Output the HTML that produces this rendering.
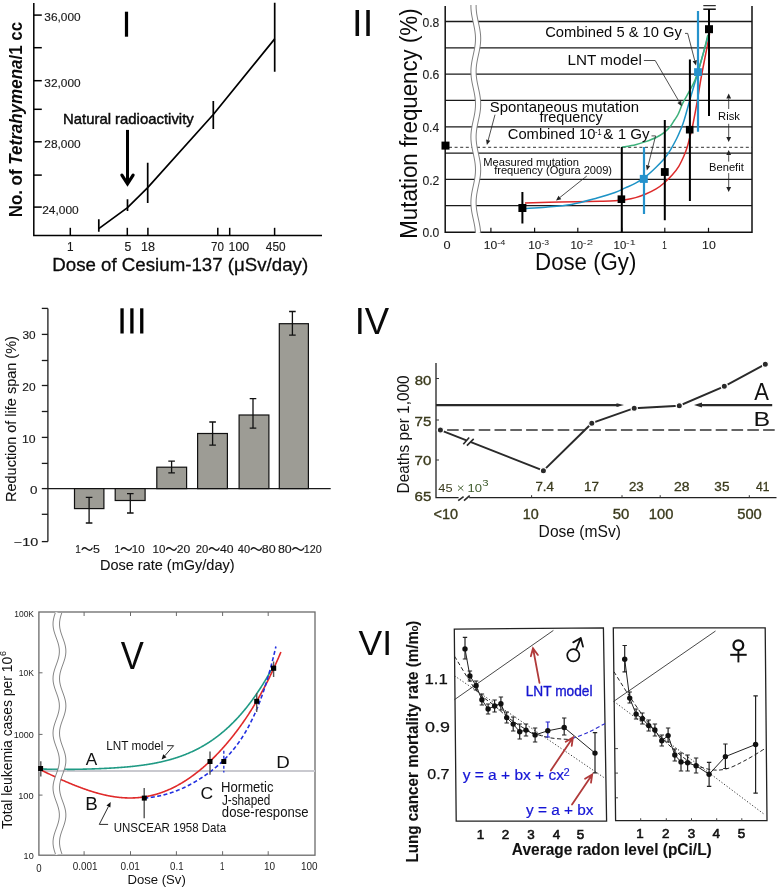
<!DOCTYPE html>
<html><head><meta charset="utf-8">
<style>
html,body{margin:0;padding:0;background:#fff;}
body{width:778px;height:889px;overflow:hidden;}
svg{display:block;font-family:"Liberation Sans",sans-serif;will-change:transform;}
text{font-family:"Liberation Sans",sans-serif;}
</style></head><body>
<svg width="778" height="889" viewBox="0 0 778 889">
<rect width="778" height="889" fill="#fff"/>
<g id="p1">
<g stroke="#000" stroke-width="1.5" fill="none">
<path d="M33.8 3V235.5H322"/>
<path d="M33.8 15.1h8"/>
<path d="M33.8 47.7h8"/>
<path d="M33.8 80.7h8"/>
<path d="M33.8 109.3h8"/>
<path d="M33.8 141.8h8"/>
<path d="M33.8 175.1h8"/>
<path d="M33.8 207.1h8"/>
<path d="M70.3 235.5v-7.7"/>
<path d="M127.3 235.5v-7.7"/>
<path d="M147.9 235.5v-7.7"/>
<path d="M217.8 235.5v-7.7"/>
<path d="M229.7 235.5v-7.7"/>
<path d="M274.6 235.5v-7.7"/>
</g>
<g stroke="#000" stroke-width="1.7" fill="none">
<path d="M98.8 228.6L127.5 207.6L147.7 187.6L213.3 114.5L274.7 38.9"/>
<path d="M98.8 219.3V231.7M127.5 199.2V211.1M147.7 162.8V202.9M213.3 101V128.9M274.7 2.8V71.7"/>
</g>
<rect x="124.9" y="11.7" width="3.2" height="25" fill="#000"/>
<path d="M127.5 129.9V181" stroke="#000" stroke-width="3" fill="none"/>
<path d="M121.9 175.2L127.5 183.8L133.1 175.2" stroke="#000" stroke-width="3.2" fill="none" stroke-linecap="round"/>
<text x="44.35" y="20.8" font-size="11.8" fill="#1a1a1a" textLength="36.32" lengthAdjust="spacingAndGlyphs" stroke="#1a1a1a" stroke-width="0.15" >36,000</text>
<text x="44.35" y="86.6" font-size="11.8" fill="#1a1a1a" textLength="36.32" lengthAdjust="spacingAndGlyphs" stroke="#1a1a1a" stroke-width="0.15" >32,000</text>
<text x="44.30" y="148.4" font-size="11.8" fill="#1a1a1a" textLength="36.36" lengthAdjust="spacingAndGlyphs" stroke="#1a1a1a" stroke-width="0.15" >28,000</text>
<text x="42.20" y="213.7" font-size="11.8" fill="#1a1a1a" textLength="36.57" lengthAdjust="spacingAndGlyphs" stroke="#1a1a1a" stroke-width="0.15" >24,000</text>
<text x="67.10" y="250.9" font-size="12.3" fill="#1a1a1a" textLength="6.58" lengthAdjust="spacingAndGlyphs" stroke="#1a1a1a" stroke-width="0.15" >1</text>
<text x="124.41" y="250.9" font-size="12.3" fill="#1a1a1a" textLength="6.80" lengthAdjust="spacingAndGlyphs" stroke="#1a1a1a" stroke-width="0.15" >5</text>
<text x="141.04" y="250.9" font-size="12.3" fill="#1a1a1a" textLength="14.01" lengthAdjust="spacingAndGlyphs" stroke="#1a1a1a" stroke-width="0.15" >18</text>
<text x="211.11" y="250.9" font-size="12.3" fill="#1a1a1a" textLength="12.84" lengthAdjust="spacingAndGlyphs" stroke="#1a1a1a" stroke-width="0.15" >70</text>
<text x="228.56" y="250.9" font-size="12.3" fill="#1a1a1a" textLength="20.62" lengthAdjust="spacingAndGlyphs" stroke="#1a1a1a" stroke-width="0.15" >100</text>
<text x="265.83" y="250.9" font-size="12.3" fill="#1a1a1a" textLength="19.73" lengthAdjust="spacingAndGlyphs" stroke="#1a1a1a" stroke-width="0.15" >450</text>
<text x="62.98" y="123.7" font-size="14.8" fill="#0a0a0a" textLength="130.75" lengthAdjust="spacingAndGlyphs" stroke="#0a0a0a" stroke-width="0.45" >Natural radioactivity</text>
<text x="52.27" y="271" font-size="18.7" fill="#0a0a0a" textLength="255.89" lengthAdjust="spacingAndGlyphs" stroke="#0a0a0a" stroke-width="0.3" >Dose of Cesium-137 (μSv/day)</text>
<text transform="translate(21.6,217.33) rotate(-90)" font-size="18.4" fill="#0a0a0a"><tspan font-weight="bold" textLength="52.59" lengthAdjust="spacingAndGlyphs">No. of </tspan><tspan font-weight="bold" font-style="italic" textLength="105.24" lengthAdjust="spacingAndGlyphs">Tetrahymena</tspan><tspan font-weight="bold" textLength="37.60" lengthAdjust="spacingAndGlyphs">/1 cc</tspan></text>
</g>
<g id="p2">
<g stroke="#1a1a1a" stroke-width="1.3" fill="none">
<path d="M445.2 21.5H752"/>
<path d="M445.2 47.8H752"/>
<path d="M445.2 74.1H752"/>
<path d="M445.2 100.4H752"/>
<path d="M445.2 126.8H752"/>
<path d="M445.2 153.1H752"/>
<path d="M445.2 179.4H752"/>
<path d="M445.2 205.7H752"/>
</g>
<path d="M445.2 6V232.3H752V6" stroke="#111" stroke-width="1.5" fill="none"/>
<g stroke="#111" stroke-width="1.2" fill="none">
<path d="M490.9 232.3v-4.5"/>
<path d="M534.6 232.3v-4.5"/>
<path d="M577.8 232.3v-4.5"/>
<path d="M621.7 232.3v-4.5"/>
<path d="M664.8 232.3v-4.5"/>
<path d="M708.5 232.3v-4.5"/>
</g>
<path d="M449 147.3H752" stroke="#333" stroke-width="1" stroke-dasharray="3,2.6" fill="none"/>
<path d="M473.51 5.00 L473.54 8.00 L473.76 11.00 L474.14 14.00 L474.67 17.00 L475.28 20.00 L475.94 23.00 L476.58 26.00 L477.17 29.00 L477.63 32.00 L477.95 35.00 L478.09 38.00 L478.05 41.00 L477.81 44.00 L477.42 47.00 L476.89 50.00 L476.27 53.00 L475.61 56.00 L474.96 59.00 L474.39 62.00 L473.93 65.00 L473.63 68.00 L473.50 71.00 L473.57 74.00 L473.81 77.00 L474.22 80.00 L474.76 83.00 L475.39 86.00 L476.05 89.00 L476.69 92.00 L477.25 95.00 L477.70 98.00 L477.99 101.00 L478.10 104.00 L478.02 107.00 L477.76 110.00 L477.34 113.00 L476.79 116.00 L476.16 119.00 L475.50 122.00 L474.86 125.00 L474.31 128.00 L473.87 131.00 L473.59 134.00 L473.50 137.00 L473.59 140.00 L473.87 143.00 L474.31 146.00 L474.86 149.00 L475.50 152.00 L476.16 155.00 L476.79 158.00 L477.34 161.00 L477.76 164.00 L478.02 167.00 L478.10 170.00 L477.99 173.00 L477.70 176.00 L477.25 179.00 L476.69 182.00 L476.05 185.00 L475.39 188.00 L474.76 191.00 L474.22 194.00 L473.81 197.00 L473.57 200.00 L473.50 203.00 L473.63 206.00 L473.93 209.00 L474.39 212.00 L474.96 215.00 L475.61 218.00 L476.27 221.00 L476.89 224.00 L477.42 227.00 L477.81 230.00 L478.05 233.00" stroke="#fff" stroke-width="5" fill="none"/>
<path d="M470.91 5.00 L470.94 8.00 L471.16 11.00 L471.54 14.00 L472.07 17.00 L472.68 20.00 L473.34 23.00 L473.98 26.00 L474.57 29.00 L475.03 32.00 L475.35 35.00 L475.49 38.00 L475.45 41.00 L475.21 44.00 L474.82 47.00 L474.29 50.00 L473.67 53.00 L473.01 56.00 L472.36 59.00 L471.79 62.00 L471.33 65.00 L471.03 68.00 L470.90 71.00 L470.97 74.00 L471.21 77.00 L471.62 80.00 L472.16 83.00 L472.79 86.00 L473.45 89.00 L474.09 92.00 L474.65 95.00 L475.10 98.00 L475.39 101.00 L475.50 104.00 L475.42 107.00 L475.16 110.00 L474.74 113.00 L474.19 116.00 L473.56 119.00 L472.90 122.00 L472.26 125.00 L471.71 128.00 L471.27 131.00 L470.99 134.00 L470.90 137.00 L470.99 140.00 L471.27 143.00 L471.71 146.00 L472.26 149.00 L472.90 152.00 L473.56 155.00 L474.19 158.00 L474.74 161.00 L475.16 164.00 L475.42 167.00 L475.50 170.00 L475.39 173.00 L475.10 176.00 L474.65 179.00 L474.09 182.00 L473.45 185.00 L472.79 188.00 L472.16 191.00 L471.62 194.00 L471.21 197.00 L470.97 200.00 L470.90 203.00 L471.03 206.00 L471.33 209.00 L471.79 212.00 L472.36 215.00 L473.01 218.00 L473.67 221.00 L474.29 224.00 L474.82 227.00 L475.21 230.00 L475.45 233.00" stroke="#777" stroke-width="0.95" fill="none"/>
<path d="M476.11 5.00 L476.14 8.00 L476.36 11.00 L476.74 14.00 L477.27 17.00 L477.88 20.00 L478.54 23.00 L479.18 26.00 L479.77 29.00 L480.23 32.00 L480.55 35.00 L480.69 38.00 L480.65 41.00 L480.41 44.00 L480.02 47.00 L479.49 50.00 L478.87 53.00 L478.21 56.00 L477.56 59.00 L476.99 62.00 L476.53 65.00 L476.23 68.00 L476.10 71.00 L476.17 74.00 L476.41 77.00 L476.82 80.00 L477.36 83.00 L477.99 86.00 L478.65 89.00 L479.29 92.00 L479.85 95.00 L480.30 98.00 L480.59 101.00 L480.70 104.00 L480.62 107.00 L480.36 110.00 L479.94 113.00 L479.39 116.00 L478.76 119.00 L478.10 122.00 L477.46 125.00 L476.91 128.00 L476.47 131.00 L476.19 134.00 L476.10 137.00 L476.19 140.00 L476.47 143.00 L476.91 146.00 L477.46 149.00 L478.10 152.00 L478.76 155.00 L479.39 158.00 L479.94 161.00 L480.36 164.00 L480.62 167.00 L480.70 170.00 L480.59 173.00 L480.30 176.00 L479.85 179.00 L479.29 182.00 L478.65 185.00 L477.99 188.00 L477.36 191.00 L476.82 194.00 L476.41 197.00 L476.17 200.00 L476.10 203.00 L476.23 206.00 L476.53 209.00 L476.99 212.00 L477.56 215.00 L478.21 218.00 L478.87 221.00 L479.49 224.00 L480.02 227.00 L480.41 230.00 L480.65 233.00" stroke="#777" stroke-width="0.95" fill="none"/>
<path d="M525.00 202.90 C530.83 202.77 547.50 202.38 560.00 202.10 C572.50 201.82 590.83 201.43 600.00 201.20 C609.17 200.97 610.78 200.95 615.00 200.70 C619.22 200.45 621.87 200.22 625.30 199.70 C628.73 199.18 632.18 198.55 635.60 197.60 C639.02 196.65 642.38 195.45 645.80 194.00 C649.22 192.55 653.00 190.78 656.10 188.90 C659.20 187.02 661.65 185.10 664.40 182.70 C667.15 180.30 670.20 177.23 672.60 174.50 C675.00 171.77 676.92 169.38 678.80 166.30 C680.68 163.22 682.53 159.08 683.90 156.00 C685.27 152.92 686.07 150.72 687.00 147.80 C687.93 144.88 688.73 141.42 689.50 138.50 C690.27 135.58 690.95 133.05 691.60 130.30 C692.25 127.55 692.45 126.88 693.40 122.00 C694.35 117.12 696.05 108.17 697.30 101.00 C698.55 93.83 699.58 86.42 700.90 79.00 C702.22 71.58 703.75 63.97 705.20 56.50 C706.65 49.03 708.87 37.92 709.60 34.20" stroke="#dd2b2b" stroke-width="1.5" fill="none"/>
<path d="M525.00 208.50 C528.45 208.28 537.97 207.88 545.70 207.20 C553.43 206.52 562.83 205.93 571.40 204.40 C579.97 202.87 589.83 199.98 597.10 198.00 C604.37 196.02 610.30 194.18 615.00 192.50 C619.70 190.82 621.87 189.45 625.30 187.90 C628.73 186.35 632.18 185.08 635.60 183.20 C639.02 181.32 642.38 179.25 645.80 176.60 C649.22 173.95 653.00 170.30 656.10 167.30 C659.20 164.30 662.00 161.52 664.40 158.60 C666.80 155.68 668.45 153.15 670.50 149.80 C672.55 146.45 674.98 141.92 676.70 138.50 C678.42 135.08 679.55 132.38 680.80 129.30 C682.05 126.22 682.60 125.22 684.20 120.00 C685.80 114.78 688.10 106.00 690.40 98.00 C692.70 90.00 695.82 79.58 698.00 72.00 C700.18 64.42 701.67 59.00 703.50 52.50 C705.33 46.00 708.08 36.25 709.00 33.00" stroke="#1d93c6" stroke-width="1.5" fill="none"/>
<path d="M621.70 147.20 C624.02 146.78 631.58 145.63 635.60 144.70 C639.62 143.77 642.38 142.80 645.80 141.60 C649.22 140.40 653.00 139.05 656.10 137.50 C659.20 135.95 662.00 134.18 664.40 132.30 C666.80 130.42 668.82 128.25 670.50 126.20 C672.18 124.15 673.25 121.95 674.50 120.00 C675.75 118.05 676.58 117.38 678.00 114.50 C679.42 111.62 681.08 106.63 683.00 102.70 C684.92 98.77 687.43 94.85 689.50 90.90 C691.57 86.95 693.32 84.48 695.40 79.00 C697.48 73.52 700.32 63.67 702.00 58.00 C703.68 52.33 704.53 48.87 705.50 45.00 C706.47 41.13 707.42 36.50 707.80 34.80" stroke="#3cb07a" stroke-width="1.5" fill="none"/>
<g stroke="#000" stroke-width="2" fill="none">
<path d="M522.4 192.1V223.5M621.8 147V232M664.8 120V220.3M689.9 59.4V201M709 9.2V115.9"/>
<path d="M703.3 9.2H715.8" stroke-width="1.4"/><path d="M703.3 5.7H715.8" stroke-width="1"/>
</g>
<g stroke="#2592cc" stroke-width="2.2" fill="none"><path d="M644 147V214.1M698 11V131.8"/></g>
<g fill="#000">
<rect x="441.5" y="141.6" width="8" height="8"/>
<rect x="518.4" y="204.0" width="8" height="8"/>
<rect x="617.6" y="195.39999999999998" width="7.6" height="7.6"/>
<rect x="660.9" y="168.1" width="7.8" height="7.8"/>
<rect x="685.9000000000001" y="125.89999999999999" width="7.6" height="7.6"/>
<rect x="705.0" y="25.2" width="8" height="8"/>
</g><g fill="#2592cc">
<rect x="639.8" y="174.9" width="8" height="8"/>
<rect x="694.1" y="68.19999999999999" width="7.8" height="7.8"/>
</g>
<text x="422.43" y="26.9" font-size="12.7" fill="#1a1a1a" textLength="16.90" lengthAdjust="spacingAndGlyphs" stroke="#1a1a1a" stroke-width="0.1" >0.8</text>
<text x="422.42" y="79.2" font-size="12.7" fill="#1a1a1a" textLength="16.91" lengthAdjust="spacingAndGlyphs" stroke="#1a1a1a" stroke-width="0.1" >0.6</text>
<text x="422.43" y="131.9" font-size="12.7" fill="#1a1a1a" textLength="16.72" lengthAdjust="spacingAndGlyphs" stroke="#1a1a1a" stroke-width="0.1" >0.4</text>
<text x="422.42" y="184.5" font-size="12.7" fill="#1a1a1a" textLength="16.99" lengthAdjust="spacingAndGlyphs" stroke="#1a1a1a" stroke-width="0.1" >0.2</text>
<text x="422.43" y="237.3" font-size="12.7" fill="#1a1a1a" textLength="16.85" lengthAdjust="spacingAndGlyphs" stroke="#1a1a1a" stroke-width="0.1" >0.0</text>
<text x="443.40" y="249.4" font-size="11.2" fill="#1a1a1a" textLength="7.10" lengthAdjust="spacingAndGlyphs" stroke="#1a1a1a" stroke-width="0.1" >0</text>
<text x="483.78" y="249.4" font-size="11.2" fill="#1a1a1a" textLength="13.50" lengthAdjust="spacingAndGlyphs" stroke="#1a1a1a" stroke-width="0.1" >10</text>
<text x="497.19" y="244.5" font-size="7.5" fill="#1a1a1a" textLength="8.18" lengthAdjust="spacingAndGlyphs" >-4</text>
<text x="528.30" y="249.4" font-size="11.2" fill="#1a1a1a" textLength="13.16" lengthAdjust="spacingAndGlyphs" stroke="#1a1a1a" stroke-width="0.1" >10</text>
<text x="541.42" y="244.5" font-size="7.5" fill="#1a1a1a" textLength="7.66" lengthAdjust="spacingAndGlyphs" >-3</text>
<text x="570.44" y="249.4" font-size="11.2" fill="#1a1a1a" textLength="12.61" lengthAdjust="spacingAndGlyphs" stroke="#1a1a1a" stroke-width="0.1" >10</text>
<text x="582.89" y="244.5" font-size="7.5" fill="#1a1a1a" textLength="10.19" lengthAdjust="spacingAndGlyphs" >-2</text>
<text x="613.64" y="249.4" font-size="11.2" fill="#1a1a1a" textLength="12.61" lengthAdjust="spacingAndGlyphs" stroke="#1a1a1a" stroke-width="0.1" >10</text>
<text x="626.13" y="244.5" font-size="7.5" fill="#1a1a1a" textLength="9.50" lengthAdjust="spacingAndGlyphs" >-1</text>
<text x="662.18" y="249.4" font-size="11.2" fill="#1a1a1a" textLength="4.51" lengthAdjust="spacingAndGlyphs" stroke="#1a1a1a" stroke-width="0.1" >1</text>
<text x="702.06" y="249.4" font-size="11.2" fill="#1a1a1a" textLength="13.72" lengthAdjust="spacingAndGlyphs" stroke="#1a1a1a" stroke-width="0.1" >10</text>
<text x="352.09" y="36.2" font-size="36.3" fill="#0a0a0a" textLength="21.11" lengthAdjust="spacingAndGlyphs" >II</text>
<text x="535.08" y="269.9" font-size="23" fill="#0a0a0a" textLength="101.30" lengthAdjust="spacingAndGlyphs" >Dose (Gy)</text>
<text transform="translate(416.9,238.73) rotate(-90)" font-size="23.3" fill="#0a0a0a"><tspan textLength="230.31" lengthAdjust="spacingAndGlyphs">Mutation frequency (%)</tspan></text>
<text x="545.15" y="37" font-size="14.73" fill="#0a0a0a" textLength="136.78" lengthAdjust="spacingAndGlyphs" >Combined 5 &amp; 10 Gy</text>
<text x="567.55" y="64.8" font-size="15.18" fill="#0a0a0a" textLength="74.26" lengthAdjust="spacingAndGlyphs" >LNT model</text>
<text x="489.72" y="112.4" font-size="14.91" fill="#0a0a0a" textLength="149.25" lengthAdjust="spacingAndGlyphs" >Spontaneous mutation</text>
<text x="539.50" y="122.3" font-size="14.38" fill="#0a0a0a" textLength="63.13" lengthAdjust="spacingAndGlyphs" >frequency</text>
<text x="507.75" y="138.9" font-size="13.8" fill="#0a0a0a" textLength="87.73" lengthAdjust="spacingAndGlyphs" >Combined 10</text>
<text x="595.07" y="134.6" font-size="8.5" fill="#0a0a0a" textLength="6.59" lengthAdjust="spacingAndGlyphs" >-1</text>
<text x="603.37" y="138.9" font-size="13.8" fill="#0a0a0a" textLength="46.26" lengthAdjust="spacingAndGlyphs" >&amp; 1 Gy</text>
<text x="483.28" y="165.6" font-size="11.18" fill="#0a0a0a" textLength="95.74" lengthAdjust="spacingAndGlyphs" >Measured mutation</text>
<text x="494.14" y="173.7" font-size="11.11" fill="#0a0a0a" textLength="117.95" lengthAdjust="spacingAndGlyphs" >frequency (Ogura 2009)</text>
<text x="709.09" y="171" font-size="10.8" fill="#0a0a0a" textLength="34.70" lengthAdjust="spacingAndGlyphs" >Benefit</text>
<text x="718.08" y="119.8" font-size="11.3" fill="#0a0a0a" textLength="21.80" lengthAdjust="spacingAndGlyphs" >Risk</text>
<g stroke="#222" stroke-width="0.8" fill="none">
<path d="M685 33.4H687.7"/><path d="M643.9 60.5H655.2"/><path d="M651.5 135.9H655.6"/>
</g>
<path d="M687.70 33.40L694.75 60.66" stroke="#222" stroke-width="0.8" fill="none"/>
<path d="M696.00 65.50L692.62 61.21L696.88 60.11Z" fill="#222"/>
<path d="M655.20 60.50L679.28 101.88" stroke="#222" stroke-width="0.8" fill="none"/>
<path d="M681.80 106.20L677.38 102.99L681.19 100.77Z" fill="#222"/>
<path d="M655.60 135.90L648.12 165.55" stroke="#222" stroke-width="0.8" fill="none"/>
<path d="M646.90 170.40L645.99 165.01L650.26 166.09Z" fill="#222"/>
<path d="M495.00 114.70L488.19 140.17" stroke="#222" stroke-width="0.8" fill="none"/>
<path d="M486.90 145.00L486.07 139.60L490.32 140.74Z" fill="#222"/>
<path d="M586.80 176.00L559.91 197.48" stroke="#222" stroke-width="0.8" fill="none"/>
<path d="M556.00 200.60L558.53 195.76L561.28 199.20Z" fill="#222"/>
<path d="M728.70 109.00L728.70 98.50" stroke="#222" stroke-width="0.8" fill="none"/>
<path d="M728.70 93.50L731.10 98.50L726.30 98.50Z" fill="#222"/>
<path d="M728.70 123.80L728.70 137.00" stroke="#222" stroke-width="0.8" fill="none"/>
<path d="M728.70 142.00L726.30 137.00L731.10 137.00Z" fill="#222"/>
<path d="M728.70 161.60L728.70 155.10" stroke="#222" stroke-width="0.8" fill="none"/>
<path d="M728.70 150.10L731.10 155.10L726.30 155.10Z" fill="#222"/>
<path d="M728.70 173.10L728.70 187.00" stroke="#222" stroke-width="0.8" fill="none"/>
<path d="M728.70 192.00L726.30 187.00L731.10 187.00Z" fill="#222"/>
</g>
<g id="p3">
<g stroke="#1a1a1a" stroke-width="1.3" fill="none">
<path d="M47.9 308.4V541.6"/>
<path d="M41.8 308.4H47.9"/>
<path d="M41.8 334.4H47.9"/>
<path d="M41.8 360.5H47.9"/>
<path d="M41.8 385.5H47.9"/>
<path d="M41.8 411.5H47.9"/>
<path d="M41.8 437.4H47.9"/>
<path d="M41.8 463.4H47.9"/>
<path d="M41.8 488.6H47.9"/>
<path d="M41.8 514.3H47.9"/>
<path d="M41.8 541.6H47.9"/>
<path d="M47.9 488.6H330.7"/>
</g>
<rect x="74.5" y="488.6" width="29.400000000000006" height="20.0" fill="#9d9c95" stroke="#111" stroke-width="1.2"/>
<rect x="115.2" y="488.6" width="29.89999999999999" height="11.899999999999977" fill="#9d9c95" stroke="#111" stroke-width="1.2"/>
<rect x="156.8" y="467.2" width="29.799999999999983" height="21.400000000000034" fill="#9d9c95" stroke="#111" stroke-width="1.2"/>
<rect x="197.6" y="433.5" width="29.80000000000001" height="55.10000000000002" fill="#9d9c95" stroke="#111" stroke-width="1.2"/>
<rect x="239.1" y="415" width="29.799999999999983" height="73.60000000000002" fill="#9d9c95" stroke="#111" stroke-width="1.2"/>
<rect x="279.3" y="323.7" width="29.099999999999966" height="164.90000000000003" fill="#9d9c95" stroke="#111" stroke-width="1.2"/>
<g stroke="#111" stroke-width="1.3" fill="none">
<path d="M89.1 497.4V523M85.8 497.4h6.6M85.8 523h6.6"/>
<path d="M130.3 493.6V513M127.00000000000001 493.6h6.6M127.00000000000001 513h6.6"/>
<path d="M171.6 461.1V472.8M168.29999999999998 461.1h6.6M168.29999999999998 472.8h6.6"/>
<path d="M212.6 422V445.2M209.29999999999998 422h6.6M209.29999999999998 445.2h6.6"/>
<path d="M253 398.7V428.1M249.7 398.7h6.6M249.7 428.1h6.6"/>
<path d="M292.4 311.5V335.2M289.09999999999997 311.5h6.6M289.09999999999997 335.2h6.6"/>
</g>
<text x="22.45" y="339.2" font-size="11.1" fill="#1a1a1a" textLength="13.11" lengthAdjust="spacingAndGlyphs" stroke="#1a1a1a" stroke-width="0.15" >30</text>
<text x="22.30" y="391" font-size="11.1" fill="#1a1a1a" textLength="13.27" lengthAdjust="spacingAndGlyphs" stroke="#1a1a1a" stroke-width="0.15" >20</text>
<text x="21.97" y="442.9" font-size="11.1" fill="#1a1a1a" textLength="13.61" lengthAdjust="spacingAndGlyphs" stroke="#1a1a1a" stroke-width="0.15" >10</text>
<text x="30.08" y="494.2" font-size="11.1" fill="#1a1a1a" textLength="7.45" lengthAdjust="spacingAndGlyphs" stroke="#1a1a1a" stroke-width="0.15" >0</text>
<text x="13.79" y="545.6" font-size="11.1" fill="#1a1a1a" textLength="24.37" lengthAdjust="spacingAndGlyphs" stroke="#1a1a1a" stroke-width="0.15" >−10</text>
<text x="75.24" y="553.1" font-size="11.3" fill="#1a1a1a" textLength="5.55" lengthAdjust="spacingAndGlyphs" stroke="#1a1a1a" stroke-width="0.15" >1</text>
<path d="M82.10 549.50C83.30 547.20 85.10 547.20 87.10 549.00S90.90 550.70 92.10 548.20" stroke="#1a1a1a" stroke-width="1.35" fill="none" stroke-linecap="round"/>
<text x="92.90" y="553.1" font-size="11.3" fill="#1a1a1a" textLength="6.92" lengthAdjust="spacingAndGlyphs" stroke="#1a1a1a" stroke-width="0.15" >5</text>
<text x="114.42" y="553.1" font-size="11.3" fill="#1a1a1a" textLength="5.68" lengthAdjust="spacingAndGlyphs" stroke="#1a1a1a" stroke-width="0.15" >1</text>
<path d="M121.20 549.50C122.42 547.20 124.26 547.20 126.30 549.00S130.18 550.70 131.40 548.20" stroke="#1a1a1a" stroke-width="1.35" fill="none" stroke-linecap="round"/>
<text x="131.82" y="553.1" font-size="11.3" fill="#1a1a1a" textLength="12.83" lengthAdjust="spacingAndGlyphs" stroke="#1a1a1a" stroke-width="0.15" >10</text>
<text x="152.62" y="553.1" font-size="11.3" fill="#1a1a1a" textLength="12.83" lengthAdjust="spacingAndGlyphs" stroke="#1a1a1a" stroke-width="0.15" >10</text>
<path d="M166.50 549.50C167.68 547.20 169.44 547.20 171.40 549.00S175.12 550.70 176.30 548.20" stroke="#1a1a1a" stroke-width="1.35" fill="none" stroke-linecap="round"/>
<text x="176.89" y="553.1" font-size="11.3" fill="#1a1a1a" textLength="13.48" lengthAdjust="spacingAndGlyphs" stroke="#1a1a1a" stroke-width="0.15" >20</text>
<text x="195.73" y="553.1" font-size="11.3" fill="#1a1a1a" textLength="12.50" lengthAdjust="spacingAndGlyphs" stroke="#1a1a1a" stroke-width="0.15" >20</text>
<path d="M209.30 549.50C210.48 547.20 212.24 547.20 214.20 549.00S217.92 550.70 219.10 548.20" stroke="#1a1a1a" stroke-width="1.35" fill="none" stroke-linecap="round"/>
<text x="220.02" y="553.1" font-size="11.3" fill="#1a1a1a" textLength="13.56" lengthAdjust="spacingAndGlyphs" stroke="#1a1a1a" stroke-width="0.15" >40</text>
<text x="237.75" y="553.1" font-size="11.3" fill="#1a1a1a" textLength="12.28" lengthAdjust="spacingAndGlyphs" stroke="#1a1a1a" stroke-width="0.15" >40</text>
<path d="M251.10 549.50C252.35 547.20 254.22 547.20 256.30 549.00S260.25 550.70 261.50 548.20" stroke="#1a1a1a" stroke-width="1.35" fill="none" stroke-linecap="round"/>
<text x="261.76" y="553.1" font-size="11.3" fill="#1a1a1a" textLength="13.83" lengthAdjust="spacingAndGlyphs" stroke="#1a1a1a" stroke-width="0.15" >80</text>
<text x="277.96" y="553.1" font-size="11.3" fill="#1a1a1a" textLength="13.83" lengthAdjust="spacingAndGlyphs" stroke="#1a1a1a" stroke-width="0.15" >80</text>
<path d="M292.70 549.50C294.02 547.20 296.00 547.20 298.20 549.00S302.38 550.70 303.70 548.20" stroke="#1a1a1a" stroke-width="1.35" fill="none" stroke-linecap="round"/>
<text x="303.78" y="553.1" font-size="11.3" fill="#1a1a1a" textLength="17.94" lengthAdjust="spacingAndGlyphs" stroke="#1a1a1a" stroke-width="0.15" >120</text>
<text x="99.91" y="570.4" font-size="14.9" fill="#111" textLength="134.69" lengthAdjust="spacingAndGlyphs" stroke="#111" stroke-width="0.1" >Dose rate (mGy/day)</text>
<text transform="translate(16,501.99) rotate(-90)" font-size="14.7" fill="#111" stroke="#111" stroke-width="0.1"><tspan textLength="165.89" lengthAdjust="spacingAndGlyphs">Reduction of life span (%)</tspan></text>
<g fill="#000"><rect x="120.4" y="308.3" width="3.3" height="25.2"/><rect x="130.25" y="308.3" width="3.3" height="25.2"/><rect x="140.1" y="308.3" width="3.3" height="25.2"/></g>
</g>
<g id="p4">
<path d="M436 362.9V497.7H776.5" stroke="#222" stroke-width="1.3" fill="none"/>
<g stroke="#333" stroke-width="1" fill="none">
<path d="M436 378.5H439"/>
<path d="M436 420H439"/>
<path d="M436 460H439"/>
<path d="M531.6 497.7v-2.5"/>
<path d="M622 497.7v-2.5"/>
<path d="M660.2 497.7v-2.5"/>
<path d="M749.3 497.7v-2.5"/>
</g>
<path d="M436 405.1H619" stroke="#2a2a2a" stroke-width="2.4" fill="none"/>
<path d="M616.5 403.2L624 405.1L616.5 407Z" fill="#2a2a2a"/>
<path d="M700 405.1H772.2" stroke="#2a2a2a" stroke-width="2.4" fill="none"/>
<path d="M694 405.1L702 402.6L702 407.6Z" fill="#2a2a2a"/>
<path d="M447.1 430H775" stroke="#333" stroke-width="1.6" stroke-dasharray="11.6,4.2" fill="none"/>
<path d="M440.40 430.10 L543.40 470.70 L591.80 423.20 L634.20 408.20 L679.30 405.70 L724.30 386.30 L765.30 364.20" stroke="#2a2a2a" stroke-width="1.9" fill="none"/>
<circle cx="440.4" cy="430.1" r="3.1" fill="#2a2a2a" stroke="#fff" stroke-width="1.2"/>
<circle cx="543.4" cy="470.7" r="3.1" fill="#2a2a2a" stroke="#fff" stroke-width="1.2"/>
<circle cx="591.8" cy="423.2" r="3.1" fill="#2a2a2a" stroke="#fff" stroke-width="1.2"/>
<circle cx="634.2" cy="408.2" r="3.1" fill="#2a2a2a" stroke="#fff" stroke-width="1.2"/>
<circle cx="679.3" cy="405.7" r="3.1" fill="#2a2a2a" stroke="#fff" stroke-width="1.2"/>
<circle cx="724.3" cy="386.3" r="3.1" fill="#2a2a2a" stroke="#fff" stroke-width="1.2"/>
<circle cx="765.3" cy="364.2" r="3.1" fill="#2a2a2a" stroke="#fff" stroke-width="1.2"/>
<g stroke="#2a2a2a" stroke-width="1.1" fill="none">
</g>
<path d="M466.3 440.4L470.2 442" stroke="#fff" stroke-width="3.5"/>
<path d="M458.6 497.7H469.2" stroke="#fff" stroke-width="2.6"/>
<g stroke="#2a2a2a" stroke-width="1.6" fill="none">
<path d="M463.3 444.3L469.2 437.5M466.9 445.6L473.7 438.9"/>
<path d="M458.2 500.7L463.6 496.6M464 500.7L469.7 495.6"/>
</g>
<text x="414.75" y="385" font-size="13.3" fill="#3a3a1c" textLength="16.63" lengthAdjust="spacingAndGlyphs" stroke="#3a3a1c" stroke-width="0.35" >80</text>
<text x="414.63" y="425.5" font-size="13.3" fill="#3a3a1c" textLength="16.81" lengthAdjust="spacingAndGlyphs" stroke="#3a3a1c" stroke-width="0.35" >75</text>
<text x="414.63" y="464.8" font-size="13.3" fill="#3a3a1c" textLength="16.76" lengthAdjust="spacingAndGlyphs" stroke="#3a3a1c" stroke-width="0.35" >70</text>
<text x="414.63" y="501.2" font-size="13.3" fill="#3a3a1c" textLength="16.80" lengthAdjust="spacingAndGlyphs" stroke="#3a3a1c" stroke-width="0.35" >65</text>
<text x="438.31" y="491.7" font-size="11.8" fill="#3a3a1c" textLength="14.23" lengthAdjust="spacingAndGlyphs" >45</text>
<path d="M458 485.6L463.3 490.6M463.3 485.6L458 490.6" stroke="#3d5a2a" stroke-width="0.95"/>
<text x="467.61" y="491.7" font-size="11.8" fill="#3d5a2a" textLength="14.50" lengthAdjust="spacingAndGlyphs" >10</text>
<text x="482.37" y="485.6" font-size="8.5" fill="#3d5a2a" textLength="6.33" lengthAdjust="spacingAndGlyphs" >3</text>
<text x="535.52" y="491.2" font-size="12.2" fill="#3a3a1c" textLength="18.36" lengthAdjust="spacingAndGlyphs" stroke="#3a3a1c" stroke-width="0.3" >7.4</text>
<text x="584.08" y="491.2" font-size="12.2" fill="#3a3a1c" textLength="14.89" lengthAdjust="spacingAndGlyphs" stroke="#3a3a1c" stroke-width="0.3" >17</text>
<text x="628.93" y="491.2" font-size="12.2" fill="#3a3a1c" textLength="14.75" lengthAdjust="spacingAndGlyphs" stroke="#3a3a1c" stroke-width="0.3" >23</text>
<text x="674.00" y="491.2" font-size="12.2" fill="#3a3a1c" textLength="15.51" lengthAdjust="spacingAndGlyphs" stroke="#3a3a1c" stroke-width="0.3" >28</text>
<text x="714.38" y="491.2" font-size="12.2" fill="#3a3a1c" textLength="15.09" lengthAdjust="spacingAndGlyphs" stroke="#3a3a1c" stroke-width="0.3" >35</text>
<text x="756.12" y="491.2" font-size="12.2" fill="#3a3a1c" textLength="13.36" lengthAdjust="spacingAndGlyphs" stroke="#3a3a1c" stroke-width="0.3" >41</text>
<text x="433.59" y="519.4" font-size="14" fill="#3a3a1c" textLength="24.48" lengthAdjust="spacingAndGlyphs" stroke="#3a3a1c" stroke-width="0.35" >&lt;10</text>
<text x="522.81" y="519.4" font-size="14" fill="#3a3a1c" textLength="15.95" lengthAdjust="spacingAndGlyphs" stroke="#3a3a1c" stroke-width="0.35" >10</text>
<text x="612.70" y="519.4" font-size="14" fill="#3a3a1c" textLength="16.58" lengthAdjust="spacingAndGlyphs" stroke="#3a3a1c" stroke-width="0.35" >50</text>
<text x="648.88" y="519.4" font-size="14" fill="#3a3a1c" textLength="24.60" lengthAdjust="spacingAndGlyphs" stroke="#3a3a1c" stroke-width="0.35" >100</text>
<text x="737.21" y="519.4" font-size="14" fill="#3a3a1c" textLength="24.56" lengthAdjust="spacingAndGlyphs" stroke="#3a3a1c" stroke-width="0.35" >500</text>
<text x="538.62" y="536.9" font-size="15.7" fill="#111" textLength="82.35" lengthAdjust="spacingAndGlyphs" >Dose (mSv)</text>
<text transform="translate(409.4,493.46) rotate(-90)" font-size="15.7" fill="#111"><tspan textLength="118.06" lengthAdjust="spacingAndGlyphs">Deaths per 1,000</tspan></text>
<text x="354.73" y="333.7" font-size="37" fill="#0a0a0a" textLength="34.53" lengthAdjust="spacingAndGlyphs" >IV</text>
<text x="754.26" y="400.3" font-size="23" fill="#111" textLength="14.69" lengthAdjust="spacingAndGlyphs" >A</text>
<text x="753.55" y="426" font-size="19.6" fill="#111" textLength="16.67" lengthAdjust="spacingAndGlyphs" >B</text>
</g>
<g id="p5">
<rect x="38.9" y="612" width="276.1" height="243.2" fill="none" stroke="#6a6a6a" stroke-width="1.3"/>
<g stroke="#6a6a6a" stroke-width="1" fill="none">
<path d="M38.9 672.8h3.6"/>
<path d="M38.9 734.4h3.6"/>
<path d="M38.9 795.1h3.6"/>
<path d="M84.1 855.2v-4M84.1 612v4"/>
<path d="M130.5 855.2v-4M130.5 612v4"/>
<path d="M176.4 855.2v-4M176.4 612v4"/>
<path d="M222.6 855.2v-4M222.6 612v4"/>
<path d="M268.2 855.2v-4M268.2 612v4"/>
</g>
<path d="M38.9 770.9H315" stroke="#c9c9cf" stroke-width="2" fill="none"/>
<path d="M42.00 768.99 L42.50 769.01 L43.00 769.03 L43.50 769.05 L44.00 769.07 L44.50 769.09 L45.00 769.11 L45.50 769.13 L46.00 769.14 L46.50 769.16 L47.00 769.18 L47.50 769.19 L48.00 769.21 L48.50 769.22 L49.00 769.23 L49.50 769.25 L50.00 769.26 L50.50 769.27 L51.00 769.28 L51.50 769.29 L52.00 769.30 L52.50 769.31 L53.00 769.32 L53.50 769.33 L54.00 769.34 L54.50 769.34 L55.00 769.35 L55.50 769.36 L56.00 769.36 L56.50 769.37 L57.00 769.38 L57.50 769.38 L58.00 769.39 L58.50 769.39 L59.00 769.39 L59.50 769.40 L60.00 769.40 L60.50 769.40 L61.00 769.40 L61.50 769.41 L62.00 769.41 L62.50 769.41 L63.00 769.41 L63.50 769.41 L64.00 769.41 L64.50 769.41 L65.00 769.41 L65.50 769.41 L66.00 769.40 L66.50 769.40 L67.00 769.40 L67.50 769.40 L68.00 769.40 L68.50 769.39 L69.00 769.39 L69.50 769.38 L70.00 769.38 L70.50 769.38 L71.00 769.37 L71.50 769.37 L72.00 769.36 L72.50 769.36 L73.00 769.35 L73.50 769.34 L74.00 769.34 L74.50 769.33 L75.00 769.32 L75.50 769.32 L76.00 769.31 L76.50 769.30 L77.00 769.29 L77.50 769.28 L78.00 769.27 L78.50 769.27 L79.00 769.26 L79.50 769.25 L80.00 769.24 L80.50 769.23 L81.00 769.22 L81.50 769.21 L82.00 769.19 L82.50 769.18 L83.00 769.17 L83.50 769.16 L84.00 769.15 L84.50 769.14 L85.00 769.12 L85.50 769.11 L86.00 769.10 L86.50 769.08 L87.00 769.07 L87.50 769.06 L88.00 769.04 L88.50 769.03 L89.00 769.01 L89.50 769.00 L90.00 768.98 L90.50 768.97 L91.00 768.95 L91.50 768.94 L92.00 768.92 L92.50 768.90 L93.00 768.89 L93.50 768.87 L94.00 768.85 L94.50 768.84 L95.00 768.82 L95.50 768.80 L96.00 768.78 L96.50 768.76 L97.00 768.74 L97.50 768.73 L98.00 768.71 L98.50 768.69 L99.00 768.67 L99.50 768.65 L100.00 768.62 L100.50 768.60 L101.00 768.58 L101.50 768.56 L102.00 768.54 L102.50 768.52 L103.00 768.49 L103.50 768.47 L104.00 768.45 L104.50 768.42 L105.00 768.40 L105.50 768.37 L106.00 768.35 L106.50 768.33 L107.00 768.30 L107.50 768.27 L108.00 768.25 L108.50 768.22 L109.00 768.19 L109.50 768.17 L110.00 768.14 L110.50 768.11 L111.00 768.08 L111.50 768.05 L112.00 768.02 L112.50 767.99 L113.00 767.96 L113.50 767.93 L114.00 767.90 L114.50 767.87 L115.00 767.84 L115.50 767.81 L116.00 767.77 L116.50 767.74 L117.00 767.71 L117.50 767.67 L118.00 767.64 L118.50 767.60 L119.00 767.57 L119.50 767.53 L120.00 767.50 L120.50 767.46 L121.00 767.42 L121.50 767.38 L122.00 767.34 L122.50 767.30 L123.00 767.26 L123.50 767.22 L124.00 767.18 L124.50 767.14 L125.00 767.10 L125.50 767.06 L126.00 767.01 L126.50 766.97 L127.00 766.93 L127.50 766.88 L128.00 766.83 L128.50 766.79 L129.00 766.74 L129.50 766.69 L130.00 766.64 L130.50 766.60 L131.00 766.55 L131.50 766.50 L132.00 766.44 L132.50 766.39 L133.00 766.34 L133.50 766.29 L134.00 766.23 L134.50 766.18 L135.00 766.12 L135.50 766.06 L136.00 766.01 L136.50 765.95 L137.00 765.89 L137.50 765.83 L138.00 765.77 L138.50 765.71 L139.00 765.65 L139.50 765.58 L140.00 765.52 L140.50 765.46 L141.00 765.39 L141.50 765.32 L142.00 765.26 L142.50 765.19 L143.00 765.12 L143.50 765.05 L144.00 764.98 L144.50 764.91 L145.00 764.83 L145.50 764.76 L146.00 764.68 L146.50 764.61 L147.00 764.53 L147.50 764.45 L148.00 764.37 L148.50 764.29 L149.00 764.21 L149.50 764.13 L150.00 764.05 L150.50 763.96 L151.00 763.88 L151.50 763.79 L152.00 763.70 L152.50 763.61 L153.00 763.52 L153.50 763.43 L154.00 763.34 L154.50 763.24 L155.00 763.15 L155.50 763.05 L156.00 762.95 L156.50 762.86 L157.00 762.76 L157.50 762.65 L158.00 762.55 L158.50 762.45 L159.00 762.34 L159.50 762.23 L160.00 762.13 L160.50 762.02 L161.00 761.91 L161.50 761.79 L162.00 761.68 L162.50 761.56 L163.00 761.45 L163.50 761.33 L164.00 761.21 L164.50 761.09 L165.00 760.97 L165.50 760.84 L166.00 760.72 L166.50 760.59 L167.00 760.46 L167.50 760.33 L168.00 760.20 L168.50 760.06 L169.00 759.93 L169.50 759.79 L170.00 759.65 L170.50 759.51 L171.00 759.37 L171.50 759.23 L172.00 759.08 L172.50 758.94 L173.00 758.79 L173.50 758.64 L174.00 758.48 L174.50 758.33 L175.00 758.17 L175.50 758.02 L176.00 757.86 L176.50 757.69 L177.00 757.53 L177.50 757.37 L178.00 757.20 L178.50 757.03 L179.00 756.86 L179.50 756.68 L180.00 756.51 L180.50 756.33 L181.00 756.15 L181.50 755.97 L182.00 755.79 L182.50 755.60 L183.00 755.42 L183.50 755.23 L184.00 755.03 L184.50 754.84 L185.00 754.64 L185.50 754.45 L186.00 754.25 L186.50 754.04 L187.00 753.84 L187.50 753.63 L188.00 753.42 L188.50 753.21 L189.00 752.99 L189.50 752.78 L190.00 752.56 L190.50 752.34 L191.00 752.11 L191.50 751.89 L192.00 751.66 L192.50 751.43 L193.00 751.20 L193.50 750.96 L194.00 750.72 L194.50 750.48 L195.00 750.24 L195.50 749.99 L196.00 749.74 L196.50 749.49 L197.00 749.24 L197.50 748.98 L198.00 748.72 L198.50 748.46 L199.00 748.20 L199.50 747.93 L200.00 747.66 L200.50 747.39 L201.00 747.11 L201.50 746.83 L202.00 746.55 L202.50 746.27 L203.00 745.98 L203.50 745.69 L204.00 745.40 L204.50 745.10 L205.00 744.80 L205.50 744.50 L206.00 744.20 L206.50 743.89 L207.00 743.58 L207.50 743.26 L208.00 742.95 L208.50 742.63 L209.00 742.30 L209.50 741.98 L210.00 741.65 L210.50 741.32 L211.00 740.98 L211.50 740.64 L212.00 740.30 L212.50 739.95 L213.00 739.61 L213.50 739.25 L214.00 738.90 L214.50 738.54 L215.00 738.18 L215.50 737.81 L216.00 737.44 L216.50 737.07 L217.00 736.69 L217.50 736.32 L218.00 735.93 L218.50 735.55 L219.00 735.16 L219.50 734.76 L220.00 734.37 L220.50 733.96 L221.00 733.56 L221.50 733.15 L222.00 732.74 L222.50 732.32 L223.00 731.91 L223.50 731.48 L224.00 731.06 L224.50 730.62 L225.00 730.19 L225.50 729.75 L226.00 729.31 L226.50 728.86 L227.00 728.41 L227.50 727.96 L228.00 727.50 L228.50 727.04 L229.00 726.57 L229.50 726.10 L230.00 725.63 L230.50 725.15 L231.00 724.67 L231.50 724.18 L232.00 723.69 L232.50 723.19 L233.00 722.70 L233.50 722.19 L234.00 721.68 L234.50 721.17 L235.00 720.66 L235.50 720.13 L236.00 719.61 L236.50 719.08 L237.00 718.55 L237.50 718.01 L238.00 717.47 L238.50 716.92 L239.00 716.37 L239.50 715.81 L240.00 715.25 L240.50 714.68 L241.00 714.11 L241.50 713.54 L242.00 712.96 L242.50 712.37 L243.00 711.79 L243.50 711.19 L244.00 710.59 L244.50 709.99 L245.00 709.38 L245.50 708.77 L246.00 708.15 L246.50 707.53 L247.00 706.90 L247.50 706.27 L248.00 705.63 L248.50 704.99 L249.00 704.34 L249.50 703.69 L250.00 703.03 L250.50 702.37 L251.00 701.70 L251.50 701.03 L252.00 700.35 L252.50 699.66 L253.00 698.98 L253.50 698.28 L254.00 697.58 L254.50 696.88 L255.00 696.17 L255.50 695.45 L256.00 694.73 L256.50 694.00 L257.00 693.27 L257.50 692.54 L258.00 691.79 L258.50 691.04 L259.00 690.29 L259.50 689.53 L260.00 688.77 L260.50 687.99 L261.00 687.22 L261.50 686.44 L262.00 685.65 L262.50 684.85 L263.00 684.06 L263.50 683.25 L264.00 682.44 L264.50 681.62 L265.00 680.80 L265.50 679.97 L266.00 679.14 L266.50 678.30 L267.00 677.45 L267.50 676.60 L268.00 675.74 L268.50 674.87 L269.00 674.00 L269.50 673.12 L270.00 672.24 L270.50 671.35 L271.00 670.45" stroke="#1f9a84" stroke-width="1.6" fill="none"/>
<path d="M42.00 770.42 L42.50 770.67 L43.00 770.93 L43.50 771.18 L44.00 771.43 L44.50 771.68 L45.00 771.93 L45.50 772.18 L46.00 772.43 L46.50 772.68 L47.00 772.93 L47.50 773.17 L48.00 773.42 L48.50 773.66 L49.00 773.90 L49.50 774.15 L50.00 774.39 L50.50 774.63 L51.00 774.87 L51.50 775.11 L52.00 775.35 L52.50 775.59 L53.00 775.82 L53.50 776.06 L54.00 776.29 L54.50 776.53 L55.00 776.76 L55.50 777.00 L56.00 777.23 L56.50 777.46 L57.00 777.69 L57.50 777.92 L58.00 778.15 L58.50 778.38 L59.00 778.60 L59.50 778.83 L60.00 779.06 L60.50 779.28 L61.00 779.51 L61.50 779.73 L62.00 779.95 L62.50 780.18 L63.00 780.40 L63.50 780.62 L64.00 780.84 L64.50 781.06 L65.00 781.27 L65.50 781.49 L66.00 781.71 L66.50 781.92 L67.00 782.14 L67.50 782.35 L68.00 782.56 L68.50 782.77 L69.00 782.98 L69.50 783.19 L70.00 783.40 L70.50 783.61 L71.00 783.82 L71.50 784.02 L72.00 784.23 L72.50 784.43 L73.00 784.64 L73.50 784.84 L74.00 785.04 L74.50 785.24 L75.00 785.44 L75.50 785.64 L76.00 785.83 L76.50 786.03 L77.00 786.23 L77.50 786.42 L78.00 786.61 L78.50 786.80 L79.00 786.99 L79.50 787.18 L80.00 787.37 L80.50 787.56 L81.00 787.75 L81.50 787.93 L82.00 788.11 L82.50 788.30 L83.00 788.48 L83.50 788.66 L84.00 788.84 L84.50 789.01 L85.00 789.19 L85.50 789.36 L86.00 789.54 L86.50 789.71 L87.00 789.88 L87.50 790.05 L88.00 790.22 L88.50 790.39 L89.00 790.55 L89.50 790.72 L90.00 790.88 L90.50 791.04 L91.00 791.20 L91.50 791.36 L92.00 791.51 L92.50 791.67 L93.00 791.82 L93.50 791.97 L94.00 792.13 L94.50 792.27 L95.00 792.42 L95.50 792.57 L96.00 792.71 L96.50 792.86 L97.00 793.00 L97.50 793.14 L98.00 793.27 L98.50 793.41 L99.00 793.54 L99.50 793.68 L100.00 793.81 L100.50 793.94 L101.00 794.07 L101.50 794.19 L102.00 794.32 L102.50 794.44 L103.00 794.56 L103.50 794.68 L104.00 794.79 L104.50 794.91 L105.00 795.02 L105.50 795.13 L106.00 795.24 L106.50 795.35 L107.00 795.45 L107.50 795.56 L108.00 795.66 L108.50 795.76 L109.00 795.86 L109.50 795.95 L110.00 796.04 L110.50 796.14 L111.00 796.22 L111.50 796.31 L112.00 796.40 L112.50 796.48 L113.00 796.56 L113.50 796.64 L114.00 796.72 L114.50 796.79 L115.00 796.86 L115.50 796.93 L116.00 797.00 L116.50 797.07 L117.00 797.13 L117.50 797.19 L118.00 797.25 L118.50 797.31 L119.00 797.36 L119.50 797.42 L120.00 797.47 L120.50 797.51 L121.00 797.56 L121.50 797.60 L122.00 797.64 L122.50 797.68 L123.00 797.72 L123.50 797.75 L124.00 797.78 L124.50 797.81 L125.00 797.84 L125.50 797.86 L126.00 797.88 L126.50 797.90 L127.00 797.92 L127.50 797.93 L128.00 797.94 L128.50 797.95 L129.00 797.96 L129.50 797.96 L130.00 797.97 L130.50 797.96 L131.00 797.96 L131.50 797.95 L132.00 797.95 L132.50 797.93 L133.00 797.92 L133.50 797.90 L134.00 797.89 L134.50 797.86 L135.00 797.84 L135.50 797.81 L136.00 797.78 L136.50 797.75 L137.00 797.71 L137.50 797.68 L138.00 797.64 L138.50 797.59 L139.00 797.55 L139.50 797.50 L140.00 797.45 L140.50 797.39 L141.00 797.34 L141.50 797.28 L142.00 797.22 L142.50 797.15 L143.00 797.08 L143.50 797.01 L144.00 796.94 L144.50 796.86 L145.00 796.78 L145.50 796.70 L146.00 796.62 L146.50 796.53 L147.00 796.44 L147.50 796.35 L148.00 796.25 L148.50 796.15 L149.00 796.05 L149.50 795.95 L150.00 795.84 L150.50 795.73 L151.00 795.61 L151.50 795.50 L152.00 795.38 L152.50 795.26 L153.00 795.13 L153.50 795.01 L154.00 794.87 L154.50 794.74 L155.00 794.61 L155.50 794.47 L156.00 794.32 L156.50 794.18 L157.00 794.03 L157.50 793.88 L158.00 793.73 L158.50 793.57 L159.00 793.41 L159.50 793.25 L160.00 793.08 L160.50 792.91 L161.00 792.74 L161.50 792.57 L162.00 792.39 L162.50 792.21 L163.00 792.02 L163.50 791.84 L164.00 791.65 L164.50 791.46 L165.00 791.26 L165.50 791.06 L166.00 790.86 L166.50 790.66 L167.00 790.45 L167.50 790.24 L168.00 790.02 L168.50 789.81 L169.00 789.59 L169.50 789.37 L170.00 789.14 L170.50 788.91 L171.00 788.68 L171.50 788.45 L172.00 788.21 L172.50 787.97 L173.00 787.72 L173.50 787.48 L174.00 787.23 L174.50 786.97 L175.00 786.72 L175.50 786.46 L176.00 786.20 L176.50 785.93 L177.00 785.67 L177.50 785.39 L178.00 785.12 L178.50 784.84 L179.00 784.56 L179.50 784.28 L180.00 784.00 L180.50 783.71 L181.00 783.41 L181.50 783.12 L182.00 782.82 L182.50 782.52 L183.00 782.22 L183.50 781.91 L184.00 781.60 L184.50 781.28 L185.00 780.97 L185.50 780.65 L186.00 780.33 L186.50 780.00 L187.00 779.67 L187.50 779.34 L188.00 779.01 L188.50 778.67 L189.00 778.33 L189.50 777.98 L190.00 777.64 L190.50 777.29 L191.00 776.93 L191.50 776.58 L192.00 776.22 L192.50 775.85 L193.00 775.49 L193.50 775.12 L194.00 774.75 L194.50 774.38 L195.00 774.00 L195.50 773.62 L196.00 773.23 L196.50 772.85 L197.00 772.46 L197.50 772.06 L198.00 771.67 L198.50 771.27 L199.00 770.87 L199.50 770.46 L200.00 770.05 L200.50 769.64 L201.00 769.23 L201.50 768.81 L202.00 768.39 L202.50 767.96 L203.00 767.54 L203.50 767.10 L204.00 766.67 L204.50 766.24 L205.00 765.80 L205.50 765.35 L206.00 764.91 L206.50 764.46 L207.00 764.01 L207.50 763.55 L208.00 763.09 L208.50 762.63 L209.00 762.16 L209.50 761.70 L210.00 761.22 L210.50 760.75 L211.00 760.27 L211.50 759.79 L212.00 759.31 L212.50 758.82 L213.00 758.33 L213.50 757.83 L214.00 757.34 L214.50 756.84 L215.00 756.33 L215.50 755.83 L216.00 755.32 L216.50 754.80 L217.00 754.29 L217.50 753.77 L218.00 753.24 L218.50 752.72 L219.00 752.18 L219.50 751.65 L220.00 751.11 L220.50 750.57 L221.00 750.03 L221.50 749.48 L222.00 748.93 L222.50 748.38 L223.00 747.82 L223.50 747.26 L224.00 746.70 L224.50 746.13 L225.00 745.56 L225.50 744.98 L226.00 744.40 L226.50 743.82 L227.00 743.23 L227.50 742.64 L228.00 742.05 L228.50 741.45 L229.00 740.85 L229.50 740.25 L230.00 739.64 L230.50 739.03 L231.00 738.42 L231.50 737.80 L232.00 737.18 L232.50 736.55 L233.00 735.92 L233.50 735.28 L234.00 734.65 L234.50 734.00 L235.00 733.36 L235.50 732.71 L236.00 732.06 L236.50 731.40 L237.00 730.74 L237.50 730.07 L238.00 729.40 L238.50 728.73 L239.00 728.05 L239.50 727.37 L240.00 726.68 L240.50 725.99 L241.00 725.29 L241.50 724.59 L242.00 723.89 L242.50 723.18 L243.00 722.47 L243.50 721.75 L244.00 721.03 L244.50 720.31 L245.00 719.58 L245.50 718.84 L246.00 718.10 L246.50 717.36 L247.00 716.61 L247.50 715.86 L248.00 715.10 L248.50 714.33 L249.00 713.57 L249.50 712.79 L250.00 712.02 L250.50 711.23 L251.00 710.45 L251.50 709.65 L252.00 708.86 L252.50 708.05 L253.00 707.24 L253.50 706.43 L254.00 705.61 L254.50 704.79 L255.00 703.96 L255.50 703.12 L256.00 702.28 L256.50 701.44 L257.00 700.58 L257.50 699.73 L258.00 698.86 L258.50 697.99 L259.00 697.12 L259.50 696.24 L260.00 695.35 L260.50 694.46 L261.00 693.56 L261.50 692.65 L262.00 691.74 L262.50 690.83 L263.00 689.90 L263.50 688.97 L264.00 688.03 L264.50 687.09 L265.00 686.14 L265.50 685.18 L266.00 684.22 L266.50 683.25 L267.00 682.27 L267.50 681.29 L268.00 680.30 L268.50 679.30 L269.00 678.29 L269.50 677.28 L270.00 676.26 L270.50 675.23 L271.00 674.20 L271.50 673.15 L272.00 672.10 L272.50 671.04 L273.00 669.98 L273.50 668.90 L274.00 667.82 L274.50 666.73 L275.00 665.63 L275.50 664.53 L276.00 663.41 L276.50 662.29 L277.00 661.15 L277.50 660.01 L278.00 658.86 L278.50 657.70 L279.00 656.53 L279.50 655.36 L280.00 654.17 L280.50 652.97 L280.90 652.01" stroke="#e02a2a" stroke-width="1.6" fill="none"/>
<path d="M144.30 798.14 L144.80 798.09 L145.30 798.04 L145.80 797.99 L146.30 797.94 L146.80 797.88 L147.30 797.83 L147.80 797.77 L148.30 797.71 L148.80 797.65 L149.30 797.59 L149.80 797.52 L150.30 797.46 L150.80 797.39 L151.30 797.32 L151.80 797.25 L152.30 797.18 L152.80 797.10 L153.30 797.02 L153.80 796.94 L154.30 796.86 L154.80 796.78 L155.30 796.69 L155.80 796.61 L156.30 796.52 L156.80 796.42 L157.30 796.33 L157.80 796.23 L158.30 796.13 L158.80 796.03 L159.30 795.93 L159.80 795.82 L160.30 795.71 L160.80 795.60 L161.30 795.49 L161.80 795.37 L162.30 795.25 L162.80 795.13 L163.30 795.00 L163.80 794.88 L164.30 794.75 L164.80 794.62 L165.30 794.48 L165.80 794.35 L166.30 794.21 L166.80 794.07 L167.30 793.92 L167.80 793.77 L168.30 793.62 L168.80 793.47 L169.30 793.32 L169.80 793.16 L170.30 793.00 L170.80 792.84 L171.30 792.67 L171.80 792.50 L172.30 792.33 L172.80 792.16 L173.30 791.98 L173.80 791.80 L174.30 791.62 L174.80 791.44 L175.30 791.25 L175.80 791.06 L176.30 790.87 L176.80 790.67 L177.30 790.48 L177.80 790.28 L178.30 790.07 L178.80 789.87 L179.30 789.66 L179.80 789.45 L180.30 789.24 L180.80 789.02 L181.30 788.80 L181.80 788.58 L182.30 788.36 L182.80 788.13 L183.30 787.91 L183.80 787.67 L184.30 787.44 L184.80 787.20 L185.30 786.97 L185.80 786.72 L186.30 786.48 L186.80 786.23 L187.30 785.98 L187.80 785.73 L188.30 785.48 L188.80 785.22 L189.30 784.96 L189.80 784.70 L190.30 784.44 L190.80 784.17 L191.30 783.90 L191.80 783.63 L192.30 783.35 L192.80 783.08 L193.30 782.80 L193.80 782.51 L194.30 782.23 L194.80 781.94 L195.30 781.65 L195.80 781.36 L196.30 781.06 L196.80 780.76 L197.30 780.46 L197.80 780.16 L198.30 779.85 L198.80 779.55 L199.30 779.23 L199.80 778.92 L200.30 778.60 L200.80 778.28 L201.30 777.96 L201.80 777.64 L202.30 777.31 L202.80 776.98 L203.30 776.64 L203.80 776.31 L204.30 775.97 L204.80 775.63 L205.30 775.28 L205.80 774.93 L206.30 774.58 L206.80 774.23 L207.30 773.87 L207.80 773.51 L208.30 773.15 L208.80 772.78 L209.30 772.41 L209.80 772.04 L210.30 771.66 L210.80 771.28 L211.30 770.90 L211.80 770.51 L212.30 770.12 L212.80 769.73 L213.30 769.33 L213.80 768.93 L214.30 768.53 L214.80 768.12 L215.30 767.71 L215.80 767.29 L216.30 766.87 L216.80 766.45 L217.30 766.02 L217.80 765.59 L218.30 765.15 L218.80 764.71 L219.30 764.26 L219.80 763.81 L220.30 763.36 L220.80 762.90 L221.30 762.44 L221.80 761.97 L222.30 761.50 L222.80 761.02 L223.30 760.53 L223.80 760.05 L224.30 759.55 L224.80 759.05 L225.30 758.55 L225.80 758.04 L226.30 757.52 L226.80 757.00 L227.30 756.47 L227.80 755.94 L228.30 755.40 L228.80 754.85 L229.30 754.30 L229.80 753.74 L230.30 753.18 L230.80 752.60 L231.30 752.02 L231.80 751.44 L232.30 750.84 L232.80 750.24 L233.30 749.63 L233.80 749.02 L234.30 748.39 L234.80 747.76 L235.30 747.12 L235.80 746.47 L236.30 745.82 L236.80 745.15 L237.30 744.48 L237.80 743.79 L238.30 743.10 L238.80 742.40 L239.30 741.69 L239.80 740.97 L240.30 740.24 L240.80 739.50 L241.30 738.74 L241.80 737.98 L242.30 737.21 L242.80 736.43 L243.30 735.63 L243.80 734.83 L244.30 734.01 L244.80 733.18 L245.30 732.34 L245.80 731.49 L246.30 730.62 L246.80 729.74 L247.30 728.85 L247.80 727.95 L248.30 727.03 L248.80 726.10 L249.30 725.15 L249.80 724.19 L250.30 723.22 L250.80 722.23 L251.30 721.23 L251.80 720.21 L252.30 719.17 L252.80 718.12 L253.30 717.06 L253.80 715.98 L254.30 714.88 L254.80 713.76 L255.30 712.63 L255.80 711.48 L256.30 710.31 L256.80 709.12 L257.30 707.91 L257.80 706.69 L258.30 705.45 L258.80 704.18 L259.30 702.90 L259.80 701.60 L260.30 700.27 L260.80 698.93 L261.30 697.56 L261.80 696.17 L262.30 694.77 L262.80 693.33 L263.30 691.88 L263.80 690.40 L264.30 688.90 L264.80 687.38 L265.30 685.83 L265.80 684.25 L266.30 682.66 L266.80 681.03 L267.30 679.38 L267.80 677.71 L268.30 676.00 L268.80 674.27 L269.30 672.52 L269.80 670.73 L270.30 668.92 L270.80 667.07 L271.30 665.20 L271.80 663.30 L272.30 661.37 L272.80 659.41 L273.30 657.41 L273.80 655.39 L274.30 653.33 L274.80 651.24 L275.30 649.12 L275.80 646.96 L275.90 646.53" stroke="#2230e0" stroke-width="1.6" stroke-dasharray="4,2.5" fill="none"/>
<path d="M58.49 613.00 L57.51 616.00 L56.77 619.00 L56.33 622.00 L56.27 625.00 L56.58 628.00 L57.23 631.00 L58.15 634.00 L59.21 637.00 L60.30 640.00 L61.30 643.00 L62.07 646.00 L62.54 649.00 L62.64 652.00 L62.36 655.00 L61.75 658.00 L60.85 661.00 L59.80 664.00 L58.70 667.00 L57.69 670.00 L56.89 673.00 L56.39 676.00 L56.25 679.00 L56.49 682.00 L57.08 685.00 L57.95 688.00 L58.99 691.00 L60.09 694.00 L61.11 697.00 L61.94 700.00 L62.47 703.00 L62.65 706.00 L62.45 709.00 L61.89 712.00 L61.05 715.00 L60.02 718.00 L58.92 721.00 L57.88 724.00 L57.03 727.00 L56.46 730.00 L56.25 733.00 L56.41 736.00 L56.94 739.00 L57.76 742.00 L58.77 745.00 L59.87 748.00 L60.92 751.00 L61.80 754.00 L62.39 757.00 L62.64 760.00 L62.52 763.00 L62.03 766.00 L61.24 769.00 L60.23 772.00 L59.14 775.00 L58.08 778.00 L57.18 781.00 L56.55 784.00 L56.26 787.00 L56.35 790.00 L56.81 793.00 L57.57 796.00 L58.56 799.00 L59.65 802.00 L60.72 805.00 L61.64 808.00 L62.30 811.00 L62.62 814.00 L62.57 817.00 L62.15 820.00 L61.42 823.00 L60.45 826.00 L59.36 829.00 L58.28 832.00 L57.34 835.00 L56.65 838.00 L56.29 841.00 L56.30 844.00 L56.69 847.00 L57.40 850.00 L58.35 853.00 L58.70 854.00" stroke="#fff" stroke-width="6" fill="none"/>
<path d="M52 770.9H67" stroke="#c9c9cf" stroke-width="2" fill="none"/>
<path d="M55.24 613.00 L54.26 616.00 L53.52 619.00 L53.08 622.00 L53.02 625.00 L53.33 628.00 L53.98 631.00 L54.90 634.00 L55.96 637.00 L57.05 640.00 L58.05 643.00 L58.82 646.00 L59.29 649.00 L59.39 652.00 L59.11 655.00 L58.50 658.00 L57.60 661.00 L56.55 664.00 L55.45 667.00 L54.44 670.00 L53.64 673.00 L53.14 676.00 L53.00 679.00 L53.24 682.00 L53.83 685.00 L54.70 688.00 L55.74 691.00 L56.84 694.00 L57.86 697.00 L58.69 700.00 L59.22 703.00 L59.40 706.00 L59.20 709.00 L58.64 712.00 L57.80 715.00 L56.77 718.00 L55.67 721.00 L54.63 724.00 L53.78 727.00 L53.21 730.00 L53.00 733.00 L53.16 736.00 L53.69 739.00 L54.51 742.00 L55.52 745.00 L56.62 748.00 L57.67 751.00 L58.55 754.00 L59.14 757.00 L59.39 760.00 L59.27 763.00 L58.78 766.00 L57.99 769.00 L56.98 772.00 L55.89 775.00 L54.83 778.00 L53.93 781.00 L53.30 784.00 L53.01 787.00 L53.10 790.00 L53.56 793.00 L54.32 796.00 L55.31 799.00 L56.40 802.00 L57.47 805.00 L58.39 808.00 L59.05 811.00 L59.37 814.00 L59.32 817.00 L58.90 820.00 L58.17 823.00 L57.20 826.00 L56.11 829.00 L55.03 832.00 L54.09 835.00 L53.40 838.00 L53.04 841.00 L53.05 844.00 L53.44 847.00 L54.15 850.00 L55.10 853.00 L55.45 854.00" stroke="#777" stroke-width="0.9" fill="none"/>
<path d="M61.74 613.00 L60.76 616.00 L60.02 619.00 L59.58 622.00 L59.52 625.00 L59.83 628.00 L60.48 631.00 L61.40 634.00 L62.46 637.00 L63.55 640.00 L64.55 643.00 L65.32 646.00 L65.79 649.00 L65.89 652.00 L65.61 655.00 L65.00 658.00 L64.10 661.00 L63.05 664.00 L61.95 667.00 L60.94 670.00 L60.14 673.00 L59.64 676.00 L59.50 679.00 L59.74 682.00 L60.33 685.00 L61.20 688.00 L62.24 691.00 L63.34 694.00 L64.36 697.00 L65.19 700.00 L65.72 703.00 L65.90 706.00 L65.70 709.00 L65.14 712.00 L64.30 715.00 L63.27 718.00 L62.17 721.00 L61.13 724.00 L60.28 727.00 L59.71 730.00 L59.50 733.00 L59.66 736.00 L60.19 739.00 L61.01 742.00 L62.02 745.00 L63.12 748.00 L64.17 751.00 L65.05 754.00 L65.64 757.00 L65.89 760.00 L65.77 763.00 L65.28 766.00 L64.49 769.00 L63.48 772.00 L62.39 775.00 L61.33 778.00 L60.43 781.00 L59.80 784.00 L59.51 787.00 L59.60 790.00 L60.06 793.00 L60.82 796.00 L61.81 799.00 L62.90 802.00 L63.97 805.00 L64.89 808.00 L65.55 811.00 L65.87 814.00 L65.82 817.00 L65.40 820.00 L64.67 823.00 L63.70 826.00 L62.61 829.00 L61.53 832.00 L60.59 835.00 L59.90 838.00 L59.54 841.00 L59.55 844.00 L59.94 847.00 L60.65 850.00 L61.60 853.00 L61.95 854.00" stroke="#777" stroke-width="0.9" fill="none"/>
<g stroke="#555" stroke-width="1.4" fill="none">
<path d="M40.8 761.2V776.6M144.2 787.9V818.3M210 751.4V774.8M256.7 693.1V712.1M273.6 661.6V677"/>
</g>
<path d="M223.8 750.8V772.6" stroke="#2a3ad8" stroke-width="1.4" stroke-dasharray="3,2" fill="none"/>
<g fill="#000">
<rect x="38.1" y="766.0" width="5" height="5"/>
<rect x="141.8" y="795.6" width="5" height="5"/>
<rect x="207.5" y="759.0" width="5" height="5"/>
<rect x="221.3" y="759.0" width="5" height="5"/>
<rect x="254.2" y="698.8" width="5" height="5"/>
<rect x="271.0" y="665.6" width="5.2" height="5.2"/>
</g>
<text x="14.26" y="617" font-size="9.3" fill="#222" textLength="19.74" lengthAdjust="spacingAndGlyphs" >100K</text>
<text x="18.75" y="675.9" font-size="9.3" fill="#222" textLength="15.14" lengthAdjust="spacingAndGlyphs" >10K</text>
<text x="13.72" y="738" font-size="9.3" fill="#222" textLength="19.93" lengthAdjust="spacingAndGlyphs" >1000</text>
<text x="18.19" y="799.3" font-size="9.3" fill="#222" textLength="15.47" lengthAdjust="spacingAndGlyphs" >100</text>
<text x="23.61" y="858.7" font-size="9.3" fill="#222" textLength="10.04" lengthAdjust="spacingAndGlyphs" >10</text>
<text x="36.32" y="872" font-size="10.3" fill="#222" textLength="5.35" lengthAdjust="spacingAndGlyphs" >0</text>
<text x="72.71" y="870.2" font-size="10.3" fill="#222" textLength="24.87" lengthAdjust="spacingAndGlyphs" >0.001</text>
<text x="120.41" y="870.4" font-size="10.3" fill="#222" textLength="19.48" lengthAdjust="spacingAndGlyphs" >0.01</text>
<text x="170.12" y="870" font-size="10.3" fill="#222" textLength="13.45" lengthAdjust="spacingAndGlyphs" >0.1</text>
<text x="219.90" y="869.8" font-size="10.3" fill="#222" textLength="4.39" lengthAdjust="spacingAndGlyphs" >1</text>
<text x="264.04" y="869.8" font-size="10.3" fill="#222" textLength="11.16" lengthAdjust="spacingAndGlyphs" >10</text>
<text x="301.04" y="869.8" font-size="10.3" fill="#222" textLength="16.54" lengthAdjust="spacingAndGlyphs" >100</text>
<text x="127.42" y="884.3" font-size="13.1" fill="#111" textLength="58.39" lengthAdjust="spacingAndGlyphs" >Dose (Sv)</text>
<text transform="translate(11.7,828.91) rotate(-90)" font-size="14.1" fill="#111"><tspan textLength="172.05" lengthAdjust="spacingAndGlyphs">Total leukemia cases per 10</tspan></text>
<text transform="translate(6.2,656.06) rotate(-90)" font-size="9" fill="#111">6</text>
<text x="120.65" y="668.8" font-size="38" fill="#0a0a0a" textLength="23.10" lengthAdjust="spacingAndGlyphs" >V</text>
<text x="106.24" y="749.9" font-size="13.1" fill="#111" textLength="57.24" lengthAdjust="spacingAndGlyphs" >LNT model</text>
<text x="113.71" y="832" font-size="13.5" fill="#111" textLength="112.39" lengthAdjust="spacingAndGlyphs" >UNSCEAR 1958 Data</text>
<text x="85.77" y="765" font-size="17.4" fill="#111" textLength="11.47" lengthAdjust="spacingAndGlyphs" >A</text>
<text x="85.16" y="810.4" font-size="17.7" fill="#111" textLength="12.53" lengthAdjust="spacingAndGlyphs" >B</text>
<text x="200.51" y="798.9" font-size="17.4" fill="#111" textLength="12.66" lengthAdjust="spacingAndGlyphs" >C</text>
<text x="276.16" y="768" font-size="16.9" fill="#111" textLength="13.53" lengthAdjust="spacingAndGlyphs" >D</text>
<text x="221.03" y="791.8" font-size="14.4" fill="#111" textLength="52.42" lengthAdjust="spacingAndGlyphs" >Hormetic</text>
<text x="221.92" y="804.7" font-size="14.4" fill="#111" textLength="48.34" lengthAdjust="spacingAndGlyphs" >J-shaped</text>
<text x="221.85" y="817.4" font-size="14.4" fill="#111" textLength="86.73" lengthAdjust="spacingAndGlyphs" >dose-response</text>
<g stroke="#111" stroke-width="0.9" fill="none"><path d="M167.1 745.7H173.6"/><path d="M108.1 824.4H99.3"/></g>
<path d="M173.60 745.70L164.88 755.73" stroke="#111" stroke-width="0.9" fill="none"/>
<path d="M161.60 759.50L163.22 754.28L166.54 757.17Z" fill="#111"/>
<path d="M99.30 824.40L108.42 806.55" stroke="#111" stroke-width="0.9" fill="none"/>
<path d="M110.70 802.10L110.38 807.55L106.47 805.55Z" fill="#111"/>
</g>
<g id="p6">
<path d="M454.3 629.2L603.4 627.8L606.6 821.1L456.2 821.1Z" fill="none" stroke="#222" stroke-width="1.3"/>
<path d="M613.3 627.8L765.2 627.8L767 820.7L615.6 820.7Z" fill="none" stroke="#222" stroke-width="1.3"/>
<path d="M454.3 699.8L553.4 630.4" stroke="#333" stroke-width="0.9" fill="none"/>
<path d="M454.6 675.9L604.3 777.8" stroke="#333" stroke-width="1" stroke-dasharray="1.2,2" fill="none"/>
<path d="M454.60 656.30 C458.17 661.92 469.27 681.72 476.00 690.00 C482.73 698.28 489.33 701.17 495.00 706.00 C500.67 710.83 504.17 714.75 510.00 719.00 C515.83 723.25 523.50 728.40 530.00 731.50 C536.50 734.60 542.50 736.27 549.00 737.60 C555.50 738.93 565.67 739.18 569.00 739.50" stroke="#222" stroke-width="1" stroke-dasharray="4,2.5" fill="none"/>
<path d="M572.00 738.60 C574.67 737.58 582.50 735.02 588.00 732.50 C593.50 729.98 602.17 725.00 605.00 723.50" stroke="#2a2ad0" stroke-width="1.1" stroke-dasharray="4,2.5" fill="none"/>
<path d="M465.00 648.90 L469.90 675.90 L476.10 685.70 L481.90 699.80 L488.10 709.00 L494.60 706.00 L500.90 703.70 L506.70 717.60 L513.20 724.10 L519.70 731.70 L526.00 730.10 L535.10 734.90 L547.80 730.80 L564.20 727.50 L595.00 753.10" stroke="#222" stroke-width="1" fill="none"/>
<g stroke="#222" stroke-width="1" fill="none">
<path d="M465 637.3V659M462.8 637.3h4.4M462.8 659h4.4" stroke="#222" stroke-width="1.2"/>
<path d="M469.9 671V681M467.7 671h4.4M467.7 681h4.4" stroke="#222" stroke-width="1.2"/>
<path d="M476.1 681V690M473.90000000000003 681h4.4M473.90000000000003 690h4.4" stroke="#222" stroke-width="1.2"/>
<path d="M481.9 694V705M479.7 694h4.4M479.7 705h4.4" stroke="#222" stroke-width="1.2"/>
<path d="M488.1 704V714M485.90000000000003 704h4.4M485.90000000000003 714h4.4" stroke="#222" stroke-width="1.2"/>
<path d="M494.6 700V712M492.40000000000003 700h4.4M492.40000000000003 712h4.4" stroke="#222" stroke-width="1.2"/>
<path d="M500.9 697V710M498.7 697h4.4M498.7 710h4.4" stroke="#222" stroke-width="1.2"/>
<path d="M506.7 712V723M504.5 712h4.4M504.5 723h4.4" stroke="#222" stroke-width="1.2"/>
<path d="M513.2 717V731M511.00000000000006 717h4.4M511.00000000000006 731h4.4" stroke="#222" stroke-width="1.2"/>
<path d="M519.7 724V739M517.5 724h4.4M517.5 739h4.4" stroke="#222" stroke-width="1.2"/>
<path d="M526 724V736M523.8 724h4.4M523.8 736h4.4" stroke="#222" stroke-width="1.2"/>
<path d="M535.1 728V742M532.9 728h4.4M532.9 742h4.4" stroke="#222" stroke-width="1.2"/>
<path d="M547.8 722V737M545.5999999999999 722h4.4M545.5999999999999 737h4.4" stroke="#2a2ad0" stroke-width="1.2"/>
<path d="M564.2 718V735M562.0 718h4.4M562.0 735h4.4" stroke="#222" stroke-width="1.2"/>
<path d="M595 732.7V772.8M592.8 732.7h4.4M592.8 772.8h4.4" stroke="#222" stroke-width="1.2"/>
</g>
<circle cx="465" cy="648.9" r="2.7" fill="#111"/>
<circle cx="469.9" cy="675.9" r="2.7" fill="#111"/>
<circle cx="476.1" cy="685.7" r="2.7" fill="#111"/>
<circle cx="481.9" cy="699.8" r="2.7" fill="#111"/>
<circle cx="488.1" cy="709" r="2.7" fill="#111"/>
<circle cx="494.6" cy="706" r="2.7" fill="#111"/>
<circle cx="500.9" cy="703.7" r="2.7" fill="#111"/>
<circle cx="506.7" cy="717.6" r="2.7" fill="#111"/>
<circle cx="513.2" cy="724.1" r="2.7" fill="#111"/>
<circle cx="519.7" cy="731.7" r="2.7" fill="#111"/>
<circle cx="526" cy="730.1" r="2.7" fill="#111"/>
<circle cx="535.1" cy="734.9" r="2.7" fill="#111"/>
<circle cx="547.8" cy="730.8" r="2.7" fill="#111"/>
<circle cx="564.2" cy="727.5" r="2.7" fill="#111"/>
<circle cx="595" cy="753.1" r="2.7" fill="#111"/>
<path d="M613.5 701.5L715.5 631" stroke="#333" stroke-width="0.9" fill="none"/>
<path d="M614 701.5L763.6 813.8" stroke="#333" stroke-width="1" stroke-dasharray="1.2,2" fill="none"/>
<path d="M614.00 671.80 C616.67 676.00 624.00 688.13 630.00 697.00 C636.00 705.87 643.33 716.83 650.00 725.00 C656.67 733.17 663.33 739.83 670.00 746.00 C676.67 752.17 683.50 758.12 690.00 762.00 C696.50 765.88 703.00 768.13 709.00 769.30 C715.00 770.47 720.00 770.47 726.00 769.00 C732.00 767.53 738.50 763.90 745.00 760.50 C751.50 757.10 761.67 750.58 765.00 748.60" stroke="#222" stroke-width="1" stroke-dasharray="4,2.5" fill="none"/>
<path d="M624.70 659.20 L629.70 698.10 L636.10 714.10 L642.30 718.70 L648.70 725.60 L654.90 730.00 L661.80 740.70 L668.10 735.60 L674.80 755.00 L681.00 761.90 L687.60 762.80 L696.10 765.80 L709.10 774.20 L725.40 756.60 L755.60 744.50" stroke="#222" stroke-width="1" fill="none"/>
<g stroke="#222" stroke-width="1" fill="none">
<path d="M624.7 645.5V671.8M622.5 645.5h4.4M622.5 671.8h4.4" stroke-width="1.2"/>
<path d="M629.7 692V703M627.5 692h4.4M627.5 703h4.4" stroke-width="1.2"/>
<path d="M636.1 709V719M633.9 709h4.4M633.9 719h4.4" stroke-width="1.2"/>
<path d="M642.3 713V724M640.0999999999999 713h4.4M640.0999999999999 724h4.4" stroke-width="1.2"/>
<path d="M648.7 720V731M646.5 720h4.4M646.5 731h4.4" stroke-width="1.2"/>
<path d="M654.9 724V736M652.6999999999999 724h4.4M652.6999999999999 736h4.4" stroke-width="1.2"/>
<path d="M661.8 735V746M659.5999999999999 735h4.4M659.5999999999999 746h4.4" stroke-width="1.2"/>
<path d="M668.1 728V742M665.9 728h4.4M665.9 742h4.4" stroke-width="1.2"/>
<path d="M674.8 749V761M672.5999999999999 749h4.4M672.5999999999999 761h4.4" stroke-width="1.2"/>
<path d="M681 753V771M678.8 753h4.4M678.8 771h4.4" stroke-width="1.2"/>
<path d="M687.6 755V771M685.4 755h4.4M685.4 771h4.4" stroke-width="1.2"/>
<path d="M696.1 758V773M693.9 758h4.4M693.9 773h4.4" stroke-width="1.2"/>
<path d="M709.1 762.3V786.3M706.9 762.3h4.4M706.9 786.3h4.4" stroke-width="1.2"/>
<path d="M725.4 744V768.5M723.1999999999999 744h4.4M723.1999999999999 768.5h4.4" stroke-width="1.2"/>
<path d="M755.6 695.8V793.2M753.4 695.8h4.4M753.4 793.2h4.4" stroke-width="1.2"/>
</g>
<circle cx="624.7" cy="659.2" r="2.7" fill="#111"/>
<circle cx="629.7" cy="698.1" r="2.7" fill="#111"/>
<circle cx="636.1" cy="714.1" r="2.7" fill="#111"/>
<circle cx="642.3" cy="718.7" r="2.7" fill="#111"/>
<circle cx="648.7" cy="725.6" r="2.7" fill="#111"/>
<circle cx="654.9" cy="730" r="2.7" fill="#111"/>
<circle cx="661.8" cy="740.7" r="2.7" fill="#111"/>
<circle cx="668.1" cy="735.6" r="2.7" fill="#111"/>
<circle cx="674.8" cy="755" r="2.7" fill="#111"/>
<circle cx="681" cy="761.9" r="2.7" fill="#111"/>
<circle cx="687.6" cy="762.8" r="2.7" fill="#111"/>
<circle cx="696.1" cy="765.8" r="2.7" fill="#111"/>
<circle cx="709.1" cy="774.2" r="2.7" fill="#111"/>
<circle cx="725.4" cy="756.6" r="2.7" fill="#111"/>
<circle cx="755.6" cy="744.5" r="2.7" fill="#111"/>
<g stroke="#333" stroke-width="0.9" fill="none">
<path d="M615 748.6h3"/>
<path d="M615 773.1h3"/>
<path d="M615 797.8h3"/>
<path d="M640.7 820.7v-2.5"/>
<path d="M666.3 820.7v-2.5"/>
<path d="M691.5 820.7v-2.5"/>
<path d="M716.7 820.7v-2.5"/>
<path d="M741.8 820.7v-2.5"/>
</g>
<path d="M539.50 682.90L533.15 648.99M537.92 654.91L533.00 648.20L530.84 656.23" stroke="#b03a3a" stroke-width="1.8" fill="none" stroke-linejoin="miter" stroke-linecap="round"/>
<path d="M550.80 770.50L572.45 738.26M571.71 745.83L572.90 737.60L565.73 741.82" stroke="#b03a3a" stroke-width="1.8" fill="none" stroke-linejoin="miter" stroke-linecap="round"/>
<path d="M572.00 804.60L591.75 775.16M591.01 782.73L592.20 774.50L585.03 778.72" stroke="#b03a3a" stroke-width="1.8" fill="none" stroke-linejoin="miter" stroke-linecap="round"/>
<text x="525.68" y="696.1" font-size="13.94" fill="#1616d0" textLength="66.84" lengthAdjust="spacingAndGlyphs" stroke="#1616d0" stroke-width="0.35" >LNT model</text>
<text x="462.66" y="780.4" font-size="15.2" fill="#1616d6" textLength="101.30" lengthAdjust="spacingAndGlyphs" stroke="#1616d6" stroke-width="0.2" >y = a + bx + cx</text>
<text x="563.64" y="775.9" font-size="11" fill="#1616d6" textLength="6.23" lengthAdjust="spacingAndGlyphs" stroke="#1616d6" stroke-width="0.1" >2</text>
<text x="526.06" y="815.3" font-size="15.2" fill="#1616d6" textLength="67.50" lengthAdjust="spacingAndGlyphs" stroke="#1616d6" stroke-width="0.2" >y = a + bx</text>
<text x="424.42" y="684" font-size="15.1" fill="#111" textLength="23.29" lengthAdjust="spacingAndGlyphs" stroke="#111" stroke-width="0.25" >1.1</text>
<text x="425.00" y="732.3" font-size="15.1" fill="#111" textLength="24.84" lengthAdjust="spacingAndGlyphs" stroke="#111" stroke-width="0.25" >0.9</text>
<text x="427.28" y="779.1" font-size="15.1" fill="#111" textLength="22.23" lengthAdjust="spacingAndGlyphs" stroke="#111" stroke-width="0.25" >0.7</text>
<text x="480.5" y="839.2" font-size="13.4" fill="#111" text-anchor="middle" stroke="#111" stroke-width="0.6">1</text>
<text x="505.5" y="839.2" font-size="13.4" fill="#111" text-anchor="middle" stroke="#111" stroke-width="0.6">2</text>
<text x="530.9" y="839.2" font-size="13.4" fill="#111" text-anchor="middle" stroke="#111" stroke-width="0.6">3</text>
<text x="556.4" y="839.2" font-size="13.4" fill="#111" text-anchor="middle" stroke="#111" stroke-width="0.6">4</text>
<text x="580.4" y="839.2" font-size="13.4" fill="#111" text-anchor="middle" stroke="#111" stroke-width="0.6">5</text>
<text x="640" y="837.8" font-size="13.4" fill="#111" text-anchor="middle" stroke="#111" stroke-width="0.6">1</text>
<text x="665.7" y="837.8" font-size="13.4" fill="#111" text-anchor="middle" stroke="#111" stroke-width="0.6">2</text>
<text x="691.5" y="837.8" font-size="13.4" fill="#111" text-anchor="middle" stroke="#111" stroke-width="0.6">3</text>
<text x="716.2" y="837.8" font-size="13.4" fill="#111" text-anchor="middle" stroke="#111" stroke-width="0.6">4</text>
<text x="741.4" y="837.8" font-size="13.4" fill="#111" text-anchor="middle" stroke="#111" stroke-width="0.6">5</text>
<text x="511.82" y="855.4" font-size="16.1" fill="#111" textLength="199.95" lengthAdjust="spacingAndGlyphs" font-weight="bold" stroke="#111" stroke-width="0.1" >Average radon level (pCi/L)</text>
<text transform="translate(418,862.52) rotate(-90)" font-size="16.3" fill="#111" stroke="#111" stroke-width="0.1"><tspan font-weight="bold" textLength="231.56" lengthAdjust="spacingAndGlyphs">Lung cancer mortality rate (m/m</tspan></text>
<text transform="translate(418.2,631.4) rotate(-90)" font-size="10" font-weight="bold" fill="#111">o</text>
<text transform="translate(418,626.1) rotate(-90)" font-size="16.3" font-weight="bold" fill="#111">)</text>
<text x="358.64" y="655.1" font-size="35.3" fill="#0a0a0a" textLength="33.53" lengthAdjust="spacingAndGlyphs" >VI</text>
<g stroke="#111" fill="none" stroke-linecap="round">
<circle cx="573.3" cy="655.3" r="6.1" stroke-width="1.7"/><path d="M576.2 649.4L580.8 638M573.2 642.4L580.8 638L583 646.6" stroke-width="1.8" stroke-linejoin="round"/>
<circle cx="738.35" cy="645.3" r="4.85" stroke-width="2.3"/><path d="M738.4 650.5V662.4" stroke-width="1.9" stroke-linecap="butt"/><path d="M730.2 654.8H746.7" stroke-width="2" stroke-linecap="butt"/>
</g>
</g>
</svg>
</body></html>
